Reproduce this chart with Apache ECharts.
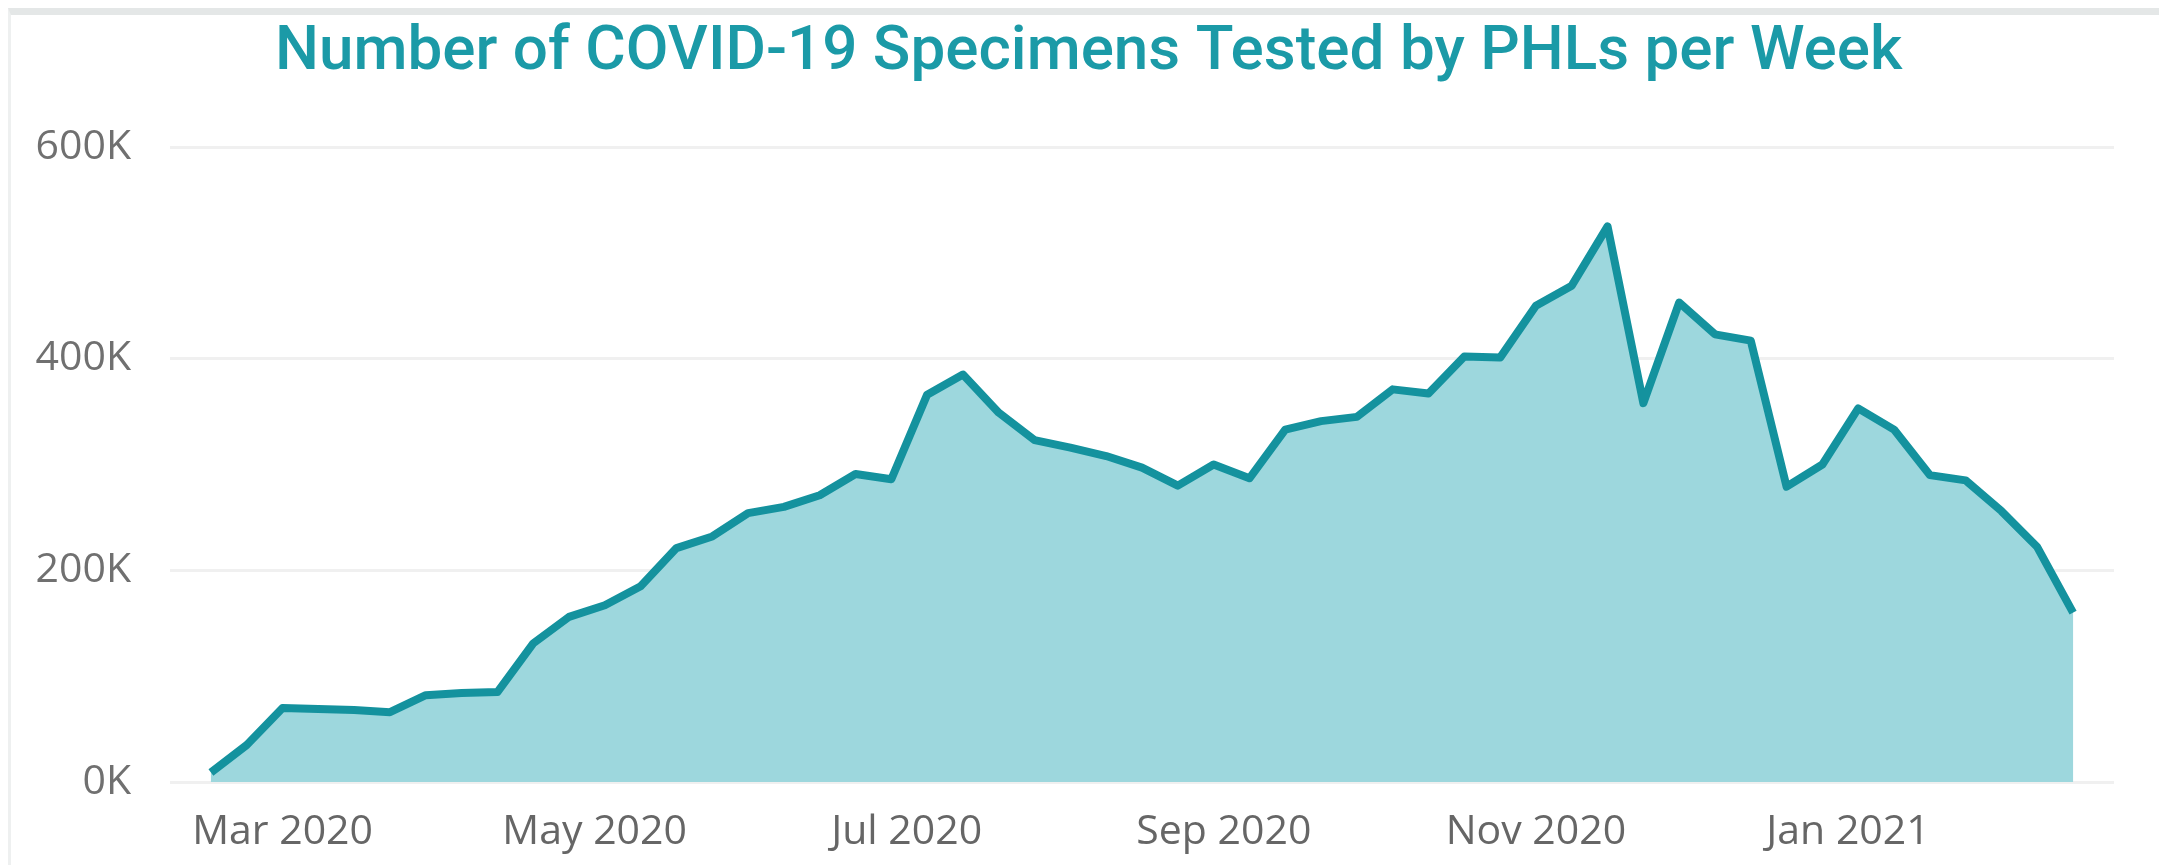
<!DOCTYPE html>
<html>
<head>
<meta charset="utf-8">
<title>COVID-19 Specimens Tested by PHLs per Week</title>
<script src="https://cdn.jsdelivr.net/npm/echarts@6/dist/echarts.min.js"></script>
<style>
  html, body { margin: 0; padding: 0; background: #fff; }
  #wrap { position: relative; width: 2159px; height: 865px; overflow: hidden; }
  #frame { position: absolute; left: 8px; top: 8px; right: -10px; bottom: -10px;
           border-top: 7px solid #e4e7e7; border-left: 3px solid #eef0f0; }
  #chart { position: absolute; left: 0; top: 0; width: 2159px; height: 865px; }
</style>
</head>
<body>
<div id="wrap">
  <div id="frame"></div>
  <div id="chart"></div>
</div>
<script>
// week start dates
const weeks = [
  "2020-02-16", "2020-02-23", "2020-03-01", "2020-03-08", "2020-03-15", "2020-03-22",
  "2020-03-29", "2020-04-05", "2020-04-12", "2020-04-19", "2020-04-26", "2020-05-03",
  "2020-05-10", "2020-05-17", "2020-05-24", "2020-05-31", "2020-06-07", "2020-06-14",
  "2020-06-21", "2020-06-28", "2020-07-05", "2020-07-12", "2020-07-19", "2020-07-26",
  "2020-08-02", "2020-08-09", "2020-08-16", "2020-08-23", "2020-08-30", "2020-09-06",
  "2020-09-13", "2020-09-20", "2020-09-27", "2020-10-04", "2020-10-11", "2020-10-18",
  "2020-10-25", "2020-11-01", "2020-11-08", "2020-11-15", "2020-11-22", "2020-11-29",
  "2020-12-06", "2020-12-13", "2020-12-20", "2020-12-27", "2021-01-03", "2021-01-10",
  "2021-01-17", "2021-01-24", "2021-01-31", "2021-02-07", "2021-02-14"
];

// specimens tested, thousands
const specimensK = [
  9, 35, 70, 69, 68, 66, 82, 84, 85, 131,
  156, 167, 185, 221, 232, 254, 260, 271, 291, 286,
  366, 385, 349, 323, 316, 308, 297, 280, 300, 287,
  333, 341, 345, 371, 367, 402, 401, 450, 469, 525,
  358, 453, 423, 417, 279, 300, 353, 333, 290, 285,
  256, 222, 160
];

const xTickDates = ["2020-03-01", "2020-05-01", "2020-07-01", "2020-09-01", "2020-11-01", "2021-01-01"];
const xTickLabels = ["Mar 2020", "May 2020", "Jul 2020", "Sep 2020", "Nov 2020", "Jan 2021"];
const xRange = ["2020-02-08", "2021-02-22"];

const toTime = (s) => new Date(s + "T00:00:00Z").getTime();

const seriesData = weeks.map((d, i) => [toTime(d), specimensK[i] * 1000]);
const tickTimes = xTickDates.map(toTime);

const chart = echarts.init(document.getElementById("chart"), null, { renderer: "canvas" });

chart.setOption({
  animation: false,
  title: {
    text: "Number of COVID-19 Specimens Tested by PHLs per Week",
    left: 275,
    top: 22,
    padding: 0,
    textStyle: {
      color: "#1b9aa7",
      fontFamily: "Roboto",
      fontWeight: 500,
      fontSize: 62
    }
  },
  grid: {
    left: 170,
    right: 45,
    top: 147,
    bottom: 83,
    containLabel: false,
    outerBoundsMode: "none"
  },
  xAxis: {
    type: "value",
    min: toTime(xRange[0]),
    max: toTime(xRange[1]),
    axisLine: { show: false },
    axisTick: { show: false },
    splitLine: { show: false },
    axisLabel: {
      customValues: tickTimes,
      margin: 30,
      color: "#666666",
      fontFamily: "Open Sans",
      fontSize: 41,
      formatter: (val) => {
        const k = tickTimes.indexOf(val);
        return k >= 0 ? xTickLabels[k] : "";
      }
    }
  },
  yAxis: {
    type: "value",
    min: 0,
    max: 600000,
    interval: 200000,
    axisLine: { show: false },
    axisTick: { show: false },
    splitLine: { lineStyle: { color: "#f0f0f0", width: 3 } },
    axisLabel: {
      margin: 39,
      color: "#707070",
      fontFamily: "Open Sans",
      fontSize: 41,
      formatter: (v) => (v / 1000) + "K"
    }
  },
  series: [
    {
      type: "line",
      data: seriesData,
      showSymbol: false,
      symbol: "none",
      lineStyle: { color: "#14929e", width: 8, join: "round" },
      areaStyle: { color: "#9dd7dd", opacity: 1 },
      z: 3
    }
  ]
});
</script>
</body>
</html>
